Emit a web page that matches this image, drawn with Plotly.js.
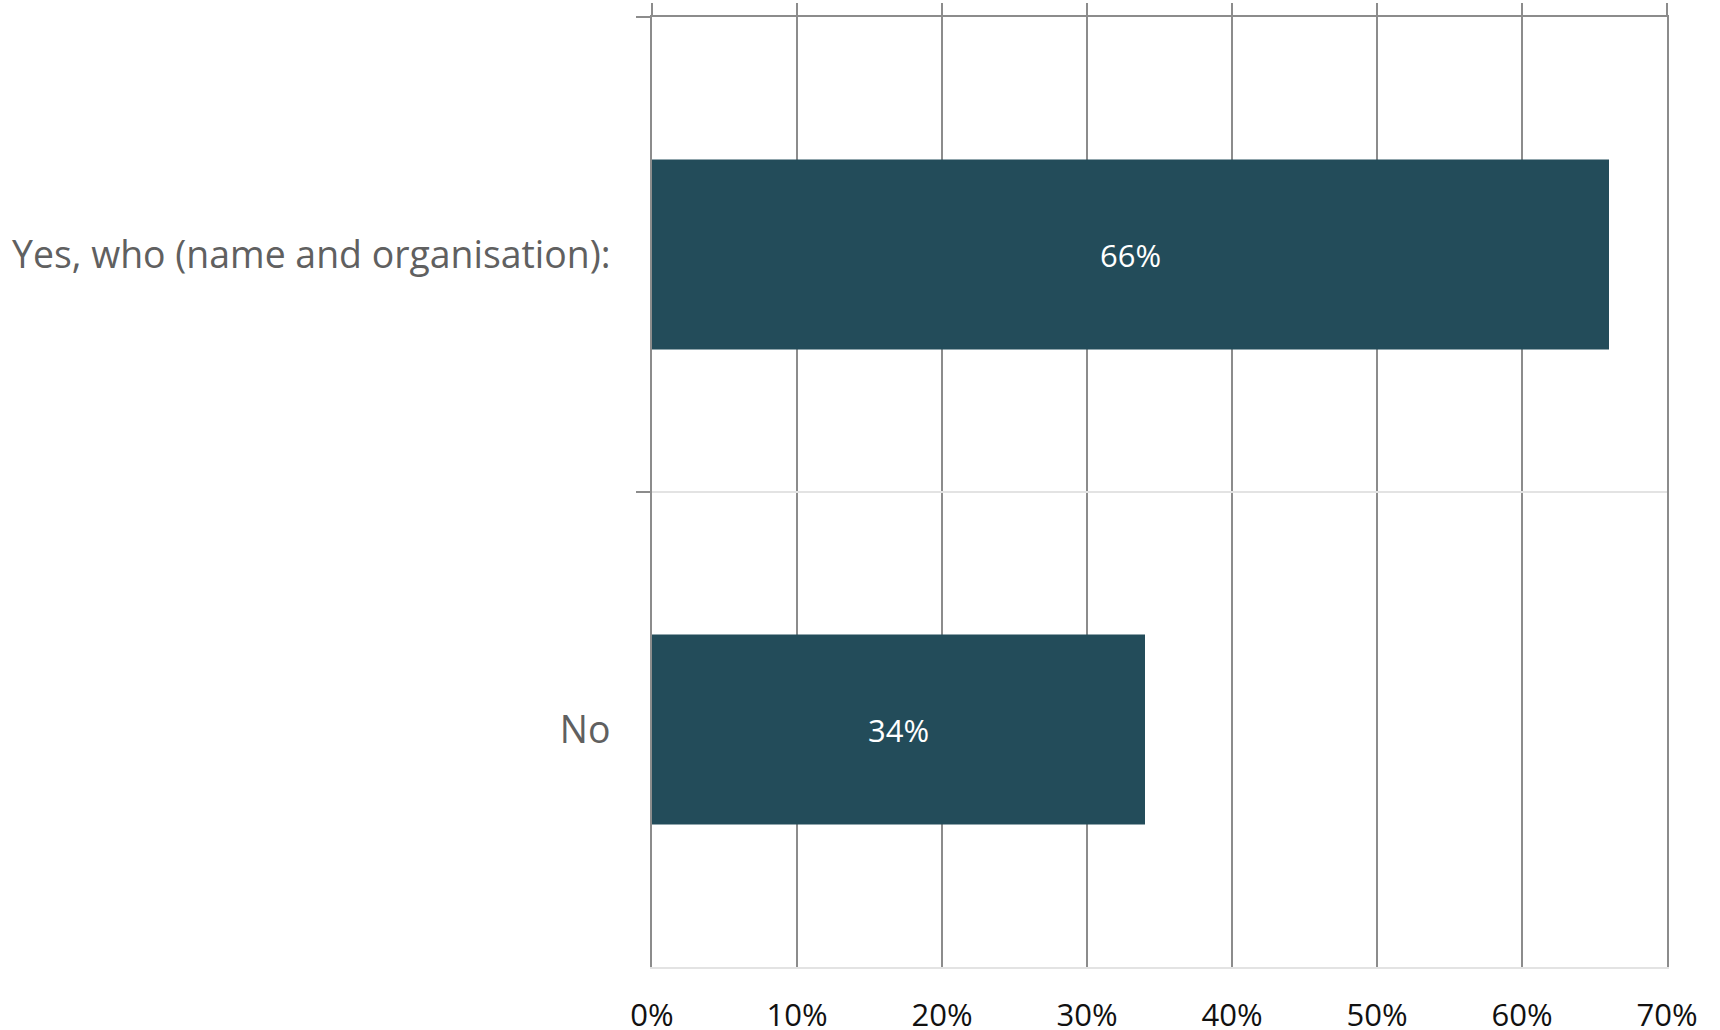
<!DOCTYPE html>
<html>
<head>
<meta charset="utf-8">
<script src="https://cdn.plot.ly/plotly-3.0.1.min.js"></script>
<style>html,body{margin:0;padding:0;background:#fff;}#chart{width:1720px;height:1030px;}</style>
</head>
<body>
<div id="chart"></div>
<script>
const categories = ["Yes, who (name and organisation):", "No"];
const values = [66, 34];
const valueLabels = ["66%", "34%"];
const xTickValues = [0, 10, 20, 30, 40, 50, 60, 70];
const xTickLabels = ["0%", "10%", "20%", "30%", "40%", "50%", "60%", "70%"];

const FONT = "'Open Sans', Lato, sans-serif";

const trace = {
  type: "bar",
  orientation: "h",
  y: categories,
  x: values,
  text: valueLabels,
  textposition: "inside",
  insidetextanchor: "middle",
  textfont: {color: "#ffffff", size: 31, family: FONT},
  marker: {color: "#234C5A", line: {width: 0}},
  hoverinfo: "none",
  cliponaxis: false
};

const ghost = {
  type: "scatter", mode: "none", x: [0, 70], y: [categories[0], categories[0]],
  xaxis: "x2", yaxis: "y", hoverinfo: "none", showlegend: false
};

const layout = {
  width: 1720, height: 1030,
  margin: {l: 652, r: 53, t: 17, b: 63, pad: 0},
  paper_bgcolor: "#ffffff", plot_bgcolor: "#ffffff",
  showlegend: false,
  bargap: 0.6,
  font: {family: FONT},
  xaxis: {
    range: [0, 70], tickvals: xTickValues, ticktext: xTickLabels,
    showgrid: true, gridcolor: "#8c8c8c", gridwidth: 2,
    zeroline: false, showline: true, linecolor: "#e3e3e3", linewidth: 2, ticks: "",
    tickfont: {size: 31, color: "#111111", family: FONT},
    ticklabelstandoff: 20
  },
  xaxis2: {
    overlaying: "x", matches: "x", side: "top", range: [0, 70],
    tickvals: xTickValues, showticklabels: false,
    showgrid: false, zeroline: false,
    showline: true, linecolor: "#8c8c8c", linewidth: 2,
    ticks: "outside", ticklen: 12, tickcolor: "#8c8c8c", tickwidth: 2
  },
  yaxis: {
    type: "category", categoryorder: "array", categoryarray: categories,
    autorange: "reversed",
    tickson: "boundaries",
    showgrid: true, gridcolor: "#e3e3e3", gridwidth: 2,
    showline: true, mirror: true, linecolor: "#8c8c8c", linewidth: 2,
    ticks: "outside", ticklen: 14, tickcolor: "#8c8c8c", tickwidth: 2,
    tickfont: {size: 37.4, color: "#606060", family: FONT},
    ticklabelstandoff: 32,
    zeroline: false
  }
};

Plotly.newPlot("chart", [trace, ghost], layout, {staticPlot: true, displayModeBar: false});
</script>
</body>
</html>
